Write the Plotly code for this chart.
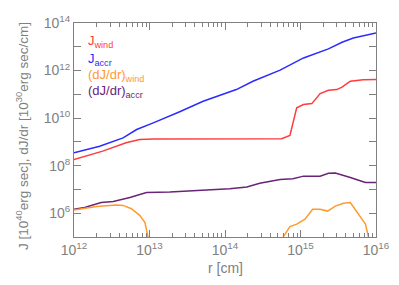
import numpy as np
import plotly.graph_objects as go

# log10 values
lr_J_accr = [12.0, 12.34, 12.65, 12.83, 13.05, 13.27, 13.40, 13.71, 14.15, 14.37, 14.60, 14.73, 15.04, 15.37, 15.55, 15.70, 16.0]
lJ_accr   = [8.54, 8.82, 9.17, 9.52, 9.80, 10.08, 10.27, 10.71, 11.20, 11.55, 11.83, 12.02, 12.53, 12.91, 13.19, 13.37, 13.58]

lr_J_wind = [12.0, 12.38, 12.69, 12.87, 13.05, 13.5, 14.0, 14.5, 14.75, 14.86, 14.95, 15.04, 15.15, 15.26, 15.37, 15.48, 15.55, 15.66, 15.83, 16.0]
lJ_wind   = [8.26, 8.61, 8.96, 9.10, 9.12, 9.13, 9.13, 9.13, 9.13, 9.27, 10.43, 10.57, 10.61, 11.03, 11.17, 11.20, 11.30, 11.55, 11.61, 11.62]

lr_dJ_accr = [12.0, 12.14, 12.36, 12.52, 12.74, 12.96, 13.27, 13.53, 13.80, 14.06, 14.29, 14.46, 14.73, 14.90, 15.04, 15.26, 15.37, 15.46, 15.66, 15.86, 16.0]
ldJ_accr   = [6.17, 6.24, 6.45, 6.49, 6.66, 6.87, 6.89, 6.93, 6.98, 7.03, 7.10, 7.26, 7.42, 7.45, 7.56, 7.56, 7.68, 7.69, 7.50, 7.29, 7.29]

lr_dJ_wind = [12.0, 12.30, 12.56, 12.65, 12.76, 12.87, 12.94, 12.98, 13.0, None,
              14.75, 14.77, 14.86, 14.95, 15.06, 15.16, 15.26, 15.36, 15.46, 15.57, 15.66, 15.86, 15.90, 15.92]
ldJ_wind   = [6.14, 6.28, 6.35, 6.33, 6.19, 5.91, 5.61, 5.04, 4.7, None,
              4.7, 5.0, 5.44, 5.54, 5.75, 6.17, 6.17, 6.09, 6.30, 6.42, 6.45, 5.54, 5.0, 4.7]

x_exps = [12, 13, 14, 15, 16]
y_exps = list(range(5, 15))


def pw(a):
    return [None if v is None else 10 ** v for v in a]


RED = "#ff3b3b"
BLUE = "#2b2bff"
ORANGE = "#ff9a2e"
PURPLE = "#6a2477"
GRAY = "#808080"
FAM = "Liberation Sans, Arial, sans-serif"

W, H = 399, 285
L, R, T, B = 74, 23, 23, 48
PW, PH = W - L - R, H - T - B

fig = go.Figure()
for lx, ly, c in [(lr_J_accr, lJ_accr, BLUE), (lr_J_wind, lJ_wind, RED),
                  (lr_dJ_accr, ldJ_accr, PURPLE), (lr_dJ_wind, ldJ_wind, ORANGE)]:
    fig.add_trace(go.Scatter(x=pw(lx), y=pw(ly), mode="lines",
                             line=dict(color=c, width=1.5), connectgaps=False,
                             showlegend=False, hoverinfo="skip"))

fig.update_xaxes(type="log", range=[12, 16], automargin=False,
                 tickvals=[10 ** e for e in x_exps],
                 ticktext=[f"10<sup>{e}</sup>" for e in x_exps],
                 ticks="inside", ticklen=7, tickcolor=GRAY, mirror="allticks",
                 showline=True, linecolor=GRAY, linewidth=1, showgrid=False,
                 minor=dict(ticks="inside", ticklen=4, tickcolor=GRAY,
                            tickvals=[m * 10 ** e for e in range(12, 16) for m in range(2, 10)]),
                 tickfont=dict(size=14, color=GRAY, family=FAM), zeroline=False)
fig.update_yaxes(type="log", range=[5, 14], automargin=False,
                 tickvals=[10 ** e for e in y_exps],
                 ticktext=[f"10<sup>{e}</sup>" if e % 2 == 0 else "" for e in y_exps],
                 ticks="inside", ticklen=7, tickcolor=GRAY, mirror="allticks",
                 showline=True, linecolor=GRAY, linewidth=1, showgrid=False,
                 tickfont=dict(size=14, color=GRAY, family=FAM), zeroline=False)

# axis titles
fig.add_annotation(text="r [cm]", xref="paper", yref="paper", x=0.5, y=-(268 - (H - B)) / PH,
                   xanchor="center", yanchor="middle", showarrow=False,
                   font=dict(size=14, color=GRAY, family=FAM))
fig.add_annotation(text="J [10<sup>40</sup>erg sec], dJ/dr [10<sup>30</sup>erg sec/cm]",
                   xref="paper", yref="paper", x=-(L - 22) / PW, y=1 - (136 - T) / PH,
                   xanchor="center", yanchor="middle", showarrow=False, textangle=-90,
                   font=dict(size=13.5, color=GRAY, family=FAM))

labels = [("J<sub>wind</sub>", RED, 42),
          ("J<sub>accr</sub>", BLUE, 59),
          ("(dJ/dr)<sub>wind</sub>", ORANGE, 75),
          ("(dJ/dr)<sub>accr</sub>", PURPLE, 91)]
for t, c, py in labels:
    fig.add_annotation(text=t, xref="paper", yref="paper", x=(86 - L) / PW, y=1 - (py - T) / PH,
                       xanchor="left", yanchor="middle", showarrow=False,
                       font=dict(size=13, color=c, family=FAM))

fig.update_layout(width=W, height=H, margin=dict(l=L, r=R, t=T, b=B),
                  paper_bgcolor="white", plot_bgcolor="white", hovermode=False,
                  font=dict(family=FAM, color=GRAY, size=13))
fig.write_html("out.html", config={"displayModeBar": False},
               post_script="document.body.style.margin='0';document.body.style.overflow='hidden';")
